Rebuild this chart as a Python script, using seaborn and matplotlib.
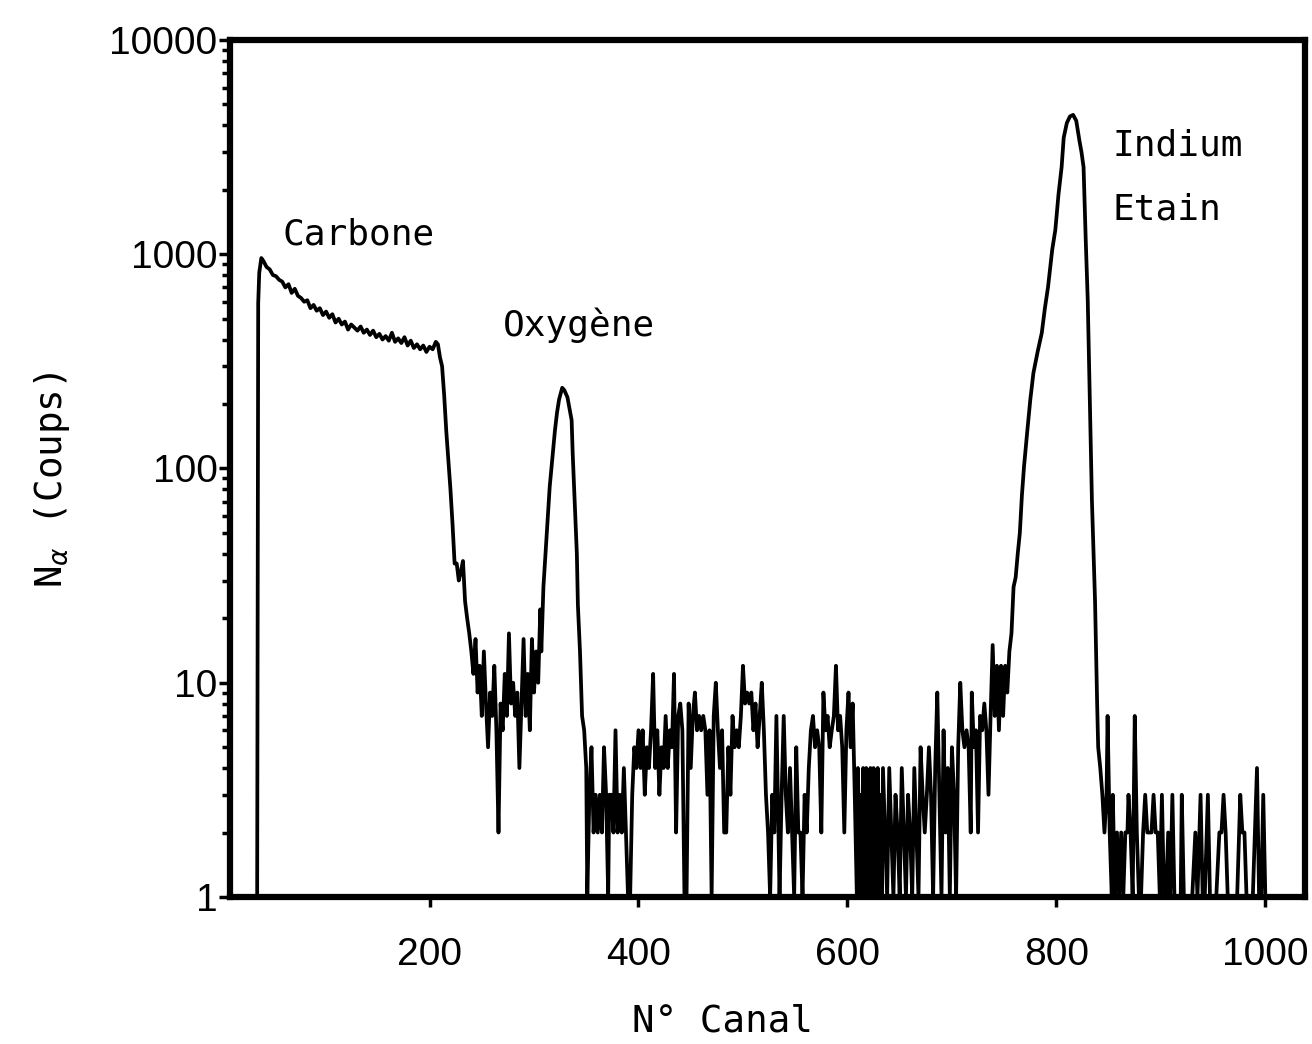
import pandas as pd
import seaborn as sns
import matplotlib.pyplot as plt
from matplotlib.ticker import FixedLocator, LogLocator, NullFormatter

# spectre RBS : N alpha (coups) en fonction du numero de canal
# valeurs ; 1 = aucun coup (bas de l'axe log)

# fond avant le front du carbone
canal_fond = [10, 20, 34]
coups_fond = [1, 1, 1]

# plateau du carbone puis chute
canal_carbone = [35, 36, 37, 39, 41, 44, 47, 50, 53, 56, 59, 62, 65, 68, 71, 74, 77, 80, 83, 86,
                 89, 92, 95, 98, 101, 104, 107, 110, 113, 116, 119, 122, 125, 128, 131, 134, 137,
                 140, 143, 146, 149, 152, 155, 158, 161, 164, 167, 170, 173, 176, 179, 182, 185,
                 188, 191, 194, 197, 200, 203, 206, 208,
                 210, 212, 214, 216, 218, 220, 222, 224, 226, 228, 230, 232, 234, 236, 238, 240]
coups_carbone = [1, 590, 820, 960, 930, 872, 850, 800, 790, 760, 745, 700, 725, 660, 690, 640,
                 625, 600, 610, 560, 580, 545, 560, 520, 540, 505, 525, 480, 500, 470, 485, 445,
                 470, 455, 440, 460, 430, 445, 420, 440, 410, 425, 400, 415, 395, 430, 390, 405,
                 385, 410, 375, 395, 365, 380, 360, 375, 350, 370, 360, 390, 380,
                 330, 300, 220, 150, 110, 80, 55, 36, 36, 30, 33, 37, 24, 20, 17, 14]

# creux entre carbone et oxygene, puis pic de l'oxygene
canal_oxygene = [242, 244, 246, 248, 250, 252, 254, 256, 258, 260, 262, 264, 266, 268, 270, 272,
                 274, 276, 278, 280, 282, 284, 286, 288, 290, 292, 294, 296, 298, 300, 302, 304,
                 306, 307,
                 309, 312, 315, 318, 320, 322, 324, 327, 329, 332, 336, 337, 339, 341, 342, 344,
                 346, 348]
coups_oxygene = [11, 16, 9, 12, 7, 14, 8, 5, 9, 7, 12, 6, 2, 8, 6, 11,
                 7, 17, 8, 10, 7, 9, 4, 8, 16, 7, 11, 6, 16, 9, 14, 10,
                 22, 14,
                 28, 48, 82, 118, 150, 182, 210, 238, 232, 215, 168, 118, 69, 40, 23, 14,
                 7, 6]

# bruit de fond entre oxygene et indium
canal_bruit = [350, 351, 353, 355, 357, 359, 361, 363, 365, 367, 369, 371, 372, 374, 376, 378,
               380, 382, 384, 386, 388, 390, 392, 394, 396, 398, 400, 402, 404, 406, 408, 410,
               412, 414, 416, 418, 420, 422, 424, 426, 428, 430, 432, 434, 436, 438, 440, 442,
               444, 446, 448, 450, 452, 454, 456, 458, 460, 462, 464, 466, 468, 470, 472, 474,
               476, 478, 480, 482, 484, 486, 488, 490, 492, 494, 496, 498, 500, 502, 504, 506,
               508, 510, 512, 514, 516, 518, 520, 522, 524, 526, 528, 530, 532, 534, 535, 537,
               539, 541, 543, 545, 547, 549, 551, 553, 555, 557, 559, 561, 563, 565, 567, 569,
               571, 573, 575, 577, 579, 581, 583, 585, 587, 589, 591, 593, 595, 597, 599, 601,
               603, 605, 607, 609, 610, 611, 612, 613, 614, 615, 616, 617, 618, 619, 620, 621,
               622, 623, 624, 625, 626, 627, 628, 629, 630, 631, 632, 633, 634, 636, 638, 640,
               642, 644, 646, 648, 650, 652, 654, 656, 658, 660, 662, 664, 666, 668, 670, 672,
               674, 676, 678, 680, 682, 684, 686, 688, 690, 692, 694, 696, 698, 700, 702, 704,
               706, 708, 710, 712, 714, 716, 718, 719, 721, 723, 725, 727, 729, 731, 733, 735,
               737, 739, 741, 743, 745]
coups_bruit = [4, 1, 3, 5, 2, 3, 2, 3, 2, 5, 3, 1, 3, 3, 2, 6,
               2, 3, 2, 4, 2, 1, 1, 3, 5, 4, 6, 4, 6, 3, 5, 4,
               6, 11, 4, 6, 3, 5, 4, 7, 4, 6, 5, 11, 2, 7, 8, 6,
               1, 1, 8, 4, 7, 9, 6, 7, 6, 7, 6, 3, 6, 1, 7, 10,
               6, 4, 6, 2, 2, 5, 3, 7, 5, 6, 5, 7, 12, 8, 9, 8,
               9, 6, 8, 5, 7, 10, 6, 3, 2, 1, 3, 2, 7, 2, 1, 3,
               7, 3, 2, 4, 2, 1, 5, 2, 2, 1, 3, 2, 4, 6, 7, 5,
               6, 5, 2, 9, 6, 7, 5, 6, 7, 12, 6, 7, 5, 2, 6, 9,
               5, 8, 3, 1, 4, 2, 1, 3, 1, 4, 2, 1, 4, 2, 3, 1,
               4, 2, 1, 4, 1, 3, 2, 4, 1, 3, 2, 1, 4, 2, 1, 4,
               2, 1, 3, 2, 1, 4, 2, 1, 3, 2, 1, 4, 2, 1, 5, 3,
               2, 3, 5, 3, 1, 4, 9, 3, 1, 6, 2, 4, 1, 5, 3, 1,
               5, 10, 6, 5, 6, 5, 2, 9, 5, 6, 2, 7, 6, 8, 6, 3,
               7, 15, 7, 12, 6]

# pic indium / etain
canal_indium = [747, 749, 751, 753, 755, 757, 759, 761, 763, 765, 767, 769, 772, 775, 778, 782,
                786, 789, 792, 796, 799, 802, 805, 807, 810, 813, 816, 819, 822, 824, 826, 828,
                830, 832, 834, 836, 837, 839, 840, 842, 844]
coups_indium = [12, 7, 12, 9, 14, 17, 28, 31, 40, 50, 75, 102, 147, 209, 279, 350,
                429, 560, 703, 1050, 1300, 1900, 2550, 3500, 4100, 4400, 4470, 4200, 3400, 3000,
                2550, 1200, 611, 209, 71, 35, 24, 8, 5, 4, 3]

# queue apres le pic
canal_queue = [846, 848, 849, 851, 853, 854, 856, 858, 860, 862, 864, 866, 868, 869, 871, 873,
               875, 877, 879, 881, 883, 885, 887, 889, 891, 893, 895, 897, 899, 901, 903, 905,
               907, 909, 911, 913, 915, 917, 919, 920, 922, 924, 926, 928, 930, 933, 935, 938,
               940, 942, 945, 947, 950, 953, 956, 958, 960, 962, 964, 967, 970, 973, 976, 978,
               980, 982, 985, 988, 992, 994, 996, 998, 1000, 1003]
coups_queue = [2, 3, 7, 2, 1, 3, 1, 2, 1, 2, 1, 2, 2, 3, 2, 1,
               7, 2, 1, 1, 2, 3, 2, 2, 2, 3, 2, 2, 1, 3, 1, 1,
               2, 1, 3, 1, 1, 1, 1, 3, 1, 1, 1, 1, 1, 2, 1, 3,
               1, 1, 3, 1, 1, 1, 2, 2, 3, 2, 1, 1, 1, 1, 3, 2,
               2, 1, 1, 1, 4, 1, 1, 3, 1, 1]

x_ticks = [200, 400, 600, 800, 1000]
y_ticks = [1, 10, 100, 1000, 10000]
y_labels = ['1', '10', '100', '1000', '10000']

df = pd.DataFrame({
    'canal': canal_fond + canal_carbone + canal_oxygene + canal_bruit + canal_indium + canal_queue,
    'coups': coups_fond + coups_carbone + coups_oxygene + coups_bruit + coups_indium + coups_queue,
})

sns.set_style('ticks')
mono = ['DejaVu Sans Mono']
narrow = ['Liberation Sans', 'DejaVu Sans']
plt.rcParams['font.family'] = mono
plt.rcParams['text.color'] = 'black'
plt.rcParams['axes.labelcolor'] = 'black'

fig = plt.figure(figsize=(13.12, 10.44), dpi=100)
ax = fig.add_axes([0.1753, 0.1408, 0.8194, 0.8209])

sns.lineplot(data=df, x='canal', y='coups', color='black', lw=2.7,
             estimator=None, sort=True, ax=ax)

ax.set_yscale('log')
ax.set_xlim(9, 1038)
ax.set_ylim(1, 10000)

for side in ['left', 'right', 'top', 'bottom']:
    ax.spines[side].set_visible(True)
    ax.spines[side].set_linewidth(4.5)
    ax.spines[side].set_color('black')

ax.xaxis.set_major_locator(FixedLocator(x_ticks))
ax.set_xticklabels([str(t) for t in x_ticks], family=narrow, fontsize=28)
ax.yaxis.set_major_locator(FixedLocator(y_ticks))
ax.set_yticklabels(y_labels, family=narrow, fontsize=28)
ax.yaxis.set_minor_locator(LogLocator(base=10, subs=range(2, 10)))
ax.yaxis.set_minor_formatter(NullFormatter())
ax.tick_params(axis='x', which='major', direction='out', length=7, width=2.5, pad=22,
               colors='black')
ax.tick_params(axis='y', which='major', direction='out', length=8, width=2.5, pad=1,
               colors='black')
ax.tick_params(axis='y', which='minor', direction='out', length=6, width=2.5, colors='black')

ax.set_xlabel('N° Canal', fontsize=27, family=mono)
ax.set_ylabel(r'N$_\alpha$ (Coups)', fontsize=27, family=mono)
ax.xaxis.set_label_coords(0.458, -0.124)
ax.yaxis.set_label_coords(-0.147, 0.487)

ax.text(59, 1230, 'Carbone', fontsize=26, family=mono, va='center')
ax.text(270, 467, 'Oxygène', fontsize=26, family=mono, va='center')
ax.text(854, 3230, 'Indium', fontsize=26, family=mono, va='center')
ax.text(854, 1610, 'Etain', fontsize=26, family=mono, va='center')

fig.savefig('out.png', dpi=100)
